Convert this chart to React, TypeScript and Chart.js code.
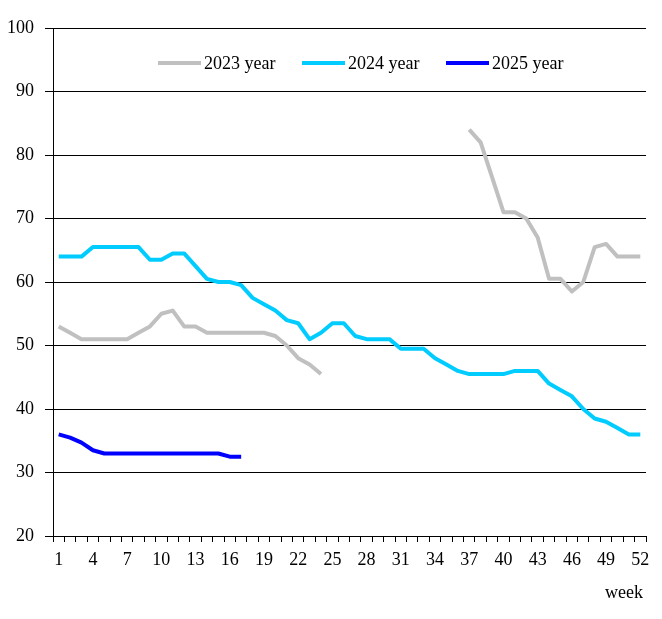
import { useEffect, useRef } from "react";
import { Chart, registerables } from "chart.js";
import type { Plugin } from "chart.js";

Chart.register(...registerables);

const weeks = [
  "1", "2", "3", "4", "5", "6", "7", "8", "9", "10", "11", "12", "13",
  "14", "15", "16", "17", "18", "19", "20", "21", "22", "23", "24", "25", "26",
  "27", "28", "29", "30", "31", "32", "33", "34", "35", "36", "37", "38", "39",
  "40", "41", "42", "43", "44", "45", "46", "47", "48", "49", "50", "51", "52",
];

const seriesNames = ["2023 year", "2024 year", "2025 year"];
const seriesColors = ["#C0C0C0", "#00CCFF", "#0000FF"];
const xAxisName = "week";

const values2023 = [
  53, 52, 51, 51, 51, 51, 51, 52, 53, 55, 55.5, 53, 53, 52, 52, 52, 52, 52, 52, 51.5, 50, 48, 47, 45.5,
  null, null, null, null, null, null, null, null, null, null, null, null,
  84, 82, 76.5, 71, 71, 70, 67, 60.5, 60.5, 58.5, 60, 65.5, 66, 64, 64, 64,
];

const values2024 = [
  64, 64, 64, 65.5, 65.5, 65.5, 65.5, 65.5, 63.5, 63.5,
  64.5, 64.5, 62.5, 60.5, 60, 60, 59.5, 57.5, 56.5, 55.5,
  54, 53.5, 51, 52, 53.5, 53.5, 51.5, 51, 51, 51,
  49.5, 49.5, 49.5, 48, 47, 46, 45.5, 45.5, 45.5, 45.5,
  46, 46, 46, 44, 43, 42, 40, 38.5, 38, 37,
  36, 36,
];

const values2025 = [36, 35.5, 34.7, 33.5, 33, 33, 33, 33, 33, 33, 33, 33, 33, 33, 33, 32.5, 32.5];

const FONT = '"Liberation Serif", "Times New Roman", serif';

// legend drawn inside the plot area in one row, plus the axis name under the labels
const insideLegend: Plugin<"line"> = {
  id: "insideLegend",
  afterDraw(chart) {
    const ctx = chart.ctx;
    const y = 63;
    let x = 158;
    ctx.save();
    ctx.font = `18px ${FONT}`;
    ctx.textBaseline = "middle";
    ctx.textAlign = "left";
    chart.data.datasets.forEach((ds) => {
      ctx.strokeStyle = ds.borderColor as string;
      ctx.lineWidth = 4;
      ctx.beginPath();
      ctx.moveTo(x, y);
      ctx.lineTo(x + 43, y);
      ctx.stroke();
      ctx.fillStyle = "#000";
      ctx.fillText(String(ds.label), x + 46, y + 1);
      x += 144;
    });

    ctx.textAlign = "right";
    ctx.fillText(xAxisName, chart.chartArea.right - 3, 593);
    ctx.restore();
  },
};

export default function App() {
  const chartRef = useRef<HTMLCanvasElement>(null);
  const chartInstance = useRef<Chart | null>(null);

  useEffect(() => {
    if (!chartRef.current) return;
    if (chartInstance.current) chartInstance.current.destroy();

    const ctx = chartRef.current.getContext("2d");
    if (!ctx) return;

    Chart.defaults.font.family = FONT;
    Chart.defaults.font.size = 18;
    Chart.defaults.color = "#000";

    const allValues = [values2023, values2024, values2025];

    chartInstance.current = new Chart(ctx, {
      type: "line",
      data: {
        labels: weeks,
        datasets: allValues.map((vals, i) => ({
          label: seriesNames[i],
          data: vals,
          borderColor: seriesColors[i],
          backgroundColor: seriesColors[i],
          borderWidth: 4,
          pointRadius: 0,
          fill: false,
          tension: 0,
          spanGaps: false,
          borderJoinStyle: "round" as const,
        })),
      },
      options: {
        responsive: true,
        maintainAspectRatio: false,
        animation: false,
        layout: { padding: { left: 0, top: 28, right: 16, bottom: 0 } },
        plugins: {
          legend: { display: false },
          tooltip: { enabled: false },
        },
        scales: {
          x: {
            offset: true,
            grid: {
              offset: true,
              drawOnChartArea: false,
              drawTicks: true,
              tickLength: 6,
              color: "#000",
            },
            border: { color: "#000", width: 1 },
            ticks: {
              autoSkip: false,
              maxRotation: 0,
              padding: 7,
              callback: (_v, index) => (index % 3 === 0 ? weeks[index] : ""),
            },
            afterFit: (scale) => {
              scale.height = 83;
            },
          },
          y: {
            min: 20,
            max: 100,
            grid: {
              color: "#000",
              lineWidth: 1,
              tickLength: 8,
            },
            border: { color: "#000", width: 1 },
            ticks: {
              stepSize: 10,
              padding: 11,
            },
            afterFit: (scale) => {
              scale.width = 53;
            },
          },
        },
      },
      plugins: [insideLegend],
    });

    return () => {
      if (chartInstance.current) {
        chartInstance.current.destroy();
        chartInstance.current = null;
      }
    };
  }, []);

  return (
    <div style={{ position: "absolute", left: 0, top: 0, width: 662, height: 619, background: "#fff" }}>
      <canvas ref={chartRef} />
    </div>
  );
}
